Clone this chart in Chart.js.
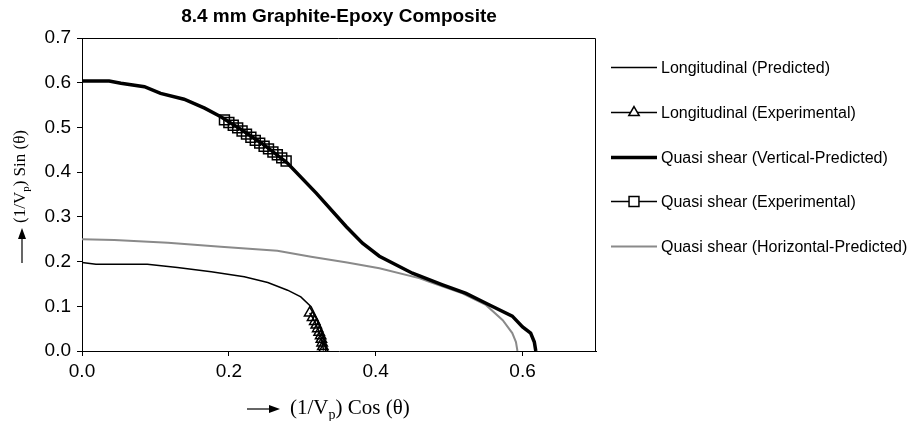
<!DOCTYPE html>
<html>
<head>
<meta charset="utf-8">
<script src="https://cdn.jsdelivr.net/npm/chart.js@4/dist/chart.umd.min.js"></script>
<style>
  html, body { margin: 0; padding: 0; background: #fff; }
  #wrap { width: 915px; height: 421px; }
</style>
</head>
<body>
<div id="wrap"><canvas id="velocityChart" width="915" height="421"></canvas></div>
<script>
const chartTitle = '8.4 mm Graphite-Epoxy Composite';

// Longitudinal (Predicted)
const longPredX = [0, 0.019, 0.050, 0.089, 0.130, 0.176, 0.221, 0.253, 0.280, 0.298, 0.312, 0.321, 0.327, 0.330, 0.332];
const longPredY = [0.198, 0.194, 0.194, 0.194, 0.187, 0.177, 0.166, 0.153, 0.136, 0.121, 0.099, 0.069, 0.045, 0.025, 0.0];

// Longitudinal (Experimental)
const longExpX = [0.310, 0.314, 0.317, 0.319, 0.321, 0.323, 0.325, 0.326, 0.327, 0.328, 0.329];
const longExpY = [0.085, 0.075, 0.066, 0.058, 0.050, 0.042, 0.034, 0.026, 0.018, 0.010, 0.003];

// Quasi shear (Vertical-Predicted)
const vertPredX = [0, 0.037, 0.053, 0.085, 0.107, 0.139, 0.167, 0.189, 0.221, 0.248, 0.280, 0.319, 0.360, 0.382, 0.405, 0.450, 0.491, 0.523, 0.555, 0.586, 0.600, 0.611, 0.616, 0.618];
const vertPredY = [0.604, 0.604, 0.599, 0.591, 0.576, 0.563, 0.543, 0.524, 0.491, 0.461, 0.420, 0.353, 0.278, 0.241, 0.212, 0.174, 0.148, 0.129, 0.103, 0.078, 0.054, 0.040, 0.020, 0.0];

// Quasi shear (Experimental)
const quasiExpX = [0.194, 0.200, 0.206, 0.212, 0.218, 0.224, 0.230, 0.236, 0.242, 0.248, 0.254, 0.260, 0.266, 0.272, 0.278];
const quasiExpY = [0.517, 0.511, 0.505, 0.499, 0.492, 0.485, 0.478, 0.471, 0.465, 0.458, 0.452, 0.445, 0.439, 0.432, 0.425];

// Quasi shear (Horizontal-Predicted)
const horPredX = [0, 0.044, 0.117, 0.189, 0.266, 0.312, 0.361, 0.405, 0.459, 0.473, 0.518, 0.550, 0.573, 0.586, 0.591, 0.593];
const horPredY = [0.250, 0.248, 0.242, 0.233, 0.224, 0.211, 0.198, 0.185, 0.163, 0.155, 0.129, 0.103, 0.069, 0.040, 0.020, 0.0];

const xTicks = [0, 0.2, 0.4, 0.6];
const yTicks = [0, 0.1, 0.2, 0.3, 0.4, 0.5, 0.6, 0.7];

const toPoints = (xs, ys) => xs.map((x, i) => ({ x: x, y: ys[i] }));

const sansFont = "'Liberation Sans', Arial, sans-serif";
const serifFont = "'Liberation Serif', 'Times New Roman', serif";

// title, frame, hand-drawn legend and axis captions
const decorPlugin = {
  id: 'decor',
  afterDraw(chart) {
    const ctx = chart.ctx;
    const area = chart.chartArea;
    ctx.save();

    // box around plot
    ctx.strokeStyle = '#000';
    ctx.lineWidth = 1;
    ctx.beginPath();
    ctx.moveTo(area.left, area.top + 0.5);
    ctx.lineTo(area.right - 0.5, area.top + 0.5);
    ctx.lineTo(area.right - 0.5, area.bottom);
    ctx.stroke();

    // title
    ctx.fillStyle = '#000';
    ctx.font = 'bold 19px ' + sansFont;
    ctx.textAlign = 'center';
    ctx.textBaseline = 'middle';
    ctx.fillText(chartTitle, (area.left + area.right) / 2, 17);

    // legend
    const lx0 = 611, lx1 = 657, rowTop = 67, rowGap = 44.8;
    ctx.textAlign = 'left';
    ctx.font = '16px ' + sansFont;
    chart.data.datasets.forEach((ds, i) => {
      const y = Math.round(rowTop + i * rowGap) + 0.5;
      ctx.strokeStyle = ds.borderColor;
      ctx.lineWidth = ds.borderWidth;
      ctx.beginPath();
      ctx.moveTo(lx0, y);
      ctx.lineTo(lx1, y);
      ctx.stroke();
      if (ds.pointRadius > 0) {
        ctx.fillStyle = '#fff';
        ctx.strokeStyle = '#000';
        Chart.helpers.drawPoint(ctx, {
          pointStyle: ds.pointStyle,
          radius: ds.pointRadius,
          borderWidth: ds.pointBorderWidth,
          rotation: 0
        }, (lx0 + lx1) / 2, y);
      }
      ctx.fillStyle = '#000';
      ctx.fillText(ds.label, lx1 + 4, y + 1);
    });

    // captions: "(1/Vp) Cos (θ)" with subscript p
    const drawCaption = (fontSize, word) => {
      ctx.font = fontSize + 'px ' + serifFont;
      ctx.textBaseline = 'alphabetic';
      let x = 0;
      ctx.fillText('(1/V', x, 0);
      x += ctx.measureText('(1/V').width;
      ctx.font = Math.round(fontSize * 0.65) + 'px ' + serifFont;
      ctx.fillText('p', x, fontSize * 0.22);
      x += ctx.measureText('p').width;
      ctx.font = fontSize + 'px ' + serifFont;
      ctx.fillText(') ' + word + ' (\u03b8)', x, 0);
    };

    ctx.fillStyle = '#000';
    ctx.strokeStyle = '#000';
    ctx.lineWidth = 1.2;
    ctx.beginPath();
    ctx.moveTo(247, 409);
    ctx.lineTo(270, 409);
    ctx.stroke();
    ctx.beginPath();
    ctx.moveTo(280, 409);
    ctx.lineTo(269, 405);
    ctx.lineTo(269, 413);
    ctx.closePath();
    ctx.fill();
    ctx.save();
    ctx.translate(290, 414);
    drawCaption(21, 'Cos');
    ctx.restore();

    ctx.beginPath();
    ctx.moveTo(22, 263);
    ctx.lineTo(22, 238);
    ctx.stroke();
    ctx.beginPath();
    ctx.moveTo(22, 228);
    ctx.lineTo(18, 239);
    ctx.lineTo(26, 239);
    ctx.closePath();
    ctx.fill();
    ctx.save();
    ctx.translate(25, 223);
    ctx.rotate(-Math.PI / 2);
    drawCaption(17, 'Sin');
    ctx.restore();

    ctx.restore();
  }
};

new Chart(document.getElementById('velocityChart'), {
  type: 'scatter',
  data: {
    datasets: [
      {
        label: 'Longitudinal (Predicted)',
        data: toPoints(longPredX, longPredY),
        showLine: true,
        borderColor: '#000',
        borderWidth: 1.5,
        pointRadius: 0
      },
      {
        label: 'Longitudinal (Experimental)',
        data: toPoints(longExpX, longExpY),
        showLine: true,
        borderColor: '#000',
        borderWidth: 1.5,
        pointStyle: 'triangle',
        pointRadius: 6,
        pointBorderWidth: 1.5,
        pointBorderColor: '#000',
        pointBackgroundColor: 'rgba(255,255,255,0)'
      },
      {
        label: 'Quasi shear (Vertical-Predicted)',
        data: toPoints(vertPredX, vertPredY),
        showLine: true,
        borderColor: '#000',
        borderWidth: 3.5,
        pointRadius: 0
      },
      {
        label: 'Quasi shear (Experimental)',
        data: toPoints(quasiExpX, quasiExpY),
        showLine: true,
        borderColor: '#000',
        borderWidth: 1.5,
        pointStyle: 'rect',
        pointRadius: 7,
        pointBorderWidth: 1.5,
        pointBorderColor: '#000',
        pointBackgroundColor: 'rgba(255,255,255,0)'
      },
      {
        label: 'Quasi shear (Horizontal-Predicted)',
        data: toPoints(horPredX, horPredY),
        showLine: true,
        borderColor: '#8a8a8a',
        borderWidth: 2,
        pointRadius: 0
      }
    ]
  },
  options: {
    responsive: false,
    animation: false,
    layout: {
      padding: { left: 0, top: 38, right: 319, bottom: 0 }
    },
    plugins: {
      legend: { display: false },
      title: { display: false },
      tooltip: { enabled: false }
    },
    scales: {
      x: {
        type: 'linear',
        min: 0,
        max: 0.7,
        afterFit(scale) { scale.height = 70; },
        afterBuildTicks(scale) { scale.ticks = xTicks.map(v => ({ value: v })); },
        grid: { drawOnChartArea: false, drawTicks: true, tickLength: 5, color: '#000' },
        border: { display: true, color: '#000', width: 1 },
        ticks: {
          padding: 4,
          color: '#000',
          font: { family: sansFont, size: 19 },
          callback: v => v.toFixed(1)
        }
      },
      y: {
        type: 'linear',
        min: 0,
        max: 0.7,
        afterFit(scale) { scale.width = 82; },
        afterBuildTicks(scale) { scale.ticks = yTicks.map(v => ({ value: v })); },
        grid: { drawOnChartArea: false, drawTicks: true, tickLength: 5, color: '#000' },
        border: { display: true, color: '#000', width: 1 },
        ticks: {
          padding: 6,
          color: '#000',
          font: { family: sansFont, size: 19 },
          callback: v => v.toFixed(1)
        }
      }
    }
  },
  plugins: [decorPlugin]
});
</script>
</body>
</html>
